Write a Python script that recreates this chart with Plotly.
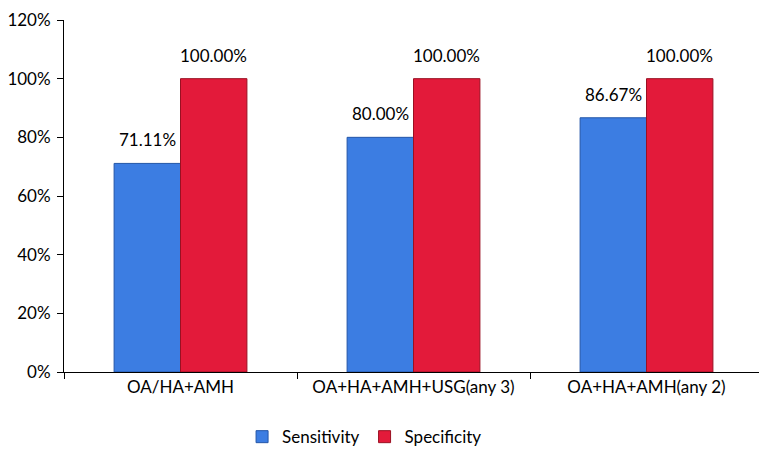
import plotly.graph_objects as go

CATEGORIES = ["OA/HA+AMH", "OA+HA+AMH+USG(any 3)", "OA+HA+AMH(any 2)"]
SENSITIVITY = [0.7111, 0.80, 0.8667]
SPECIFICITY = [1.0, 1.0, 1.0]
Y_TICKS = [0, 0.2, 0.4, 0.6, 0.8, 1.0, 1.2]

FONT = dict(family="Lato, 'Noto Sans', sans-serif", size=17, color="#000000")
BAR_HALF = 33  # px offset from category centre to each bar's centre

fig = go.Figure()
fig.add_trace(
    go.Bar(
        x=CATEGORIES,
        y=SENSITIVITY,
        name="Sensitivity",
        marker=dict(color="#3c7de2", line=dict(color="#2356a8", width=1)),
    )
)
fig.add_trace(
    go.Bar(
        x=CATEGORIES,
        y=SPECIFICITY,
        name="Specificity",
        marker=dict(color="#e31a3a", line=dict(color="#9a1022", width=1)),
    )
)

# value labels sit a little above the bar tops
for cat, sens, spec in zip(CATEGORIES, SENSITIVITY, SPECIFICITY):
    for val, shift in ((sens, -BAR_HALF), (spec, BAR_HALF)):
        fig.add_annotation(
            x=cat, y=val, text=f"{val:.2%}", showarrow=False,
            xshift=shift, yshift=11, yanchor="bottom", font=FONT,
        )

fig.update_layout(
    width=767,
    height=459,
    template="plotly_white",
    font=FONT,
    barmode="group",
    bargap=0.43,
    bargroupgap=0,
    margin=dict(l=56, r=12, t=12, b=74),
    plot_bgcolor="white",
    paper_bgcolor="white",
    showlegend=True,
    legend=dict(
        orientation="h",
        x=0.43,
        xanchor="center",
        y=-0.185,
        yanchor="middle",
        font=FONT,
        itemwidth=30,
    ),
    xaxis=dict(
        showline=True,
        linecolor="#000000",
        linewidth=1,
        ticks="outside",
        tickson="boundaries",
        ticklen=6,
        tickcolor="#000000",
        showgrid=False,
        tickfont=FONT,
        automargin=False,
    ),
    yaxis=dict(
        range=[0, 1.2],
        tickmode="array",
        tickvals=Y_TICKS,
        tickformat=".0%",
        showline=True,
        linecolor="#000000",
        linewidth=1,
        ticks="outside",
        ticklen=6,
        tickcolor="#000000",
        ticklabelstandoff=3,
        ticklabeloverflow="allow",
        showgrid=False,
        zeroline=False,
        tickfont=FONT,
        automargin=False,
    ),
)
fig.write_html("out.html")
